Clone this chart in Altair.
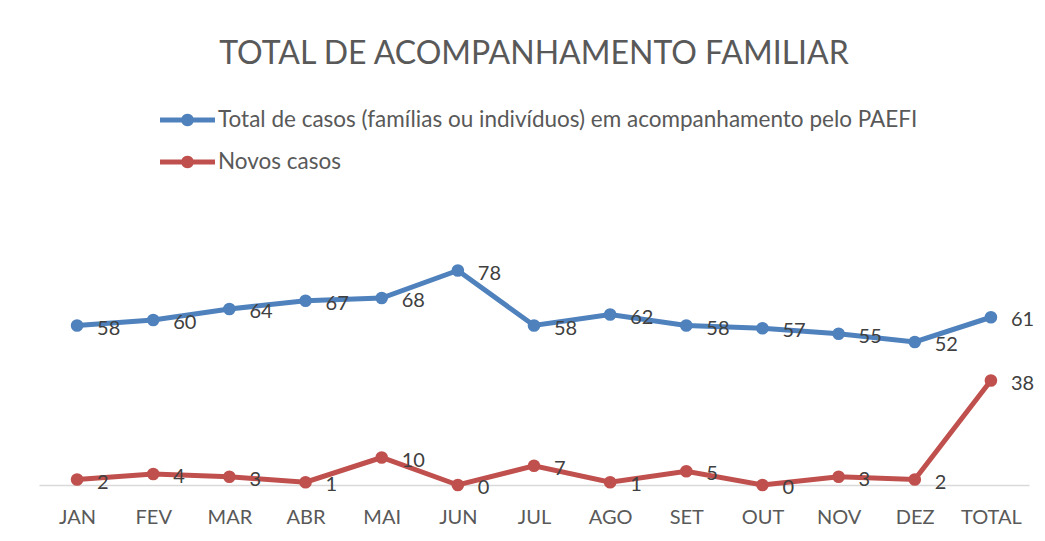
import altair as alt
import pandas as pd
import math

months = ["JAN", "FEV", "MAR", "ABR", "MAI", "JUN", "JUL", "AGO", "SET", "OUT", "NOV", "DEZ", "TOTAL"]
total_casos = [58, 60, 64, 67, 68, 78, 58, 62, 58, 57, 55, 52, 61]
novos_casos = [2, 4, 3, 1, 10, 0, 7, 1, 5, 0, 3, 2, 38]
series_names = ["Total de casos (famílias ou indivíduos) em acompanhamento pelo PAEFI", "Novos casos"]
series_colors = ["#4F81BD", "#C0504D"]

rows = []
for m, v in zip(months, total_casos):
    rows.append({"mes": m, "valor": v, "serie": series_names[0]})
for m, v in zip(months, novos_casos):
    rows.append({"mes": m, "valor": v, "serie": series_names[1]})
df = pd.DataFrame(rows)

# legend symbol: line segment with a dot in the middle (unit square path)
circ = []
for i in range(24):
    a = 2 * math.pi * i / 24
    circ.append(f"{0.23*math.cos(a):.3f},{0.23*math.sin(a):.3f}")
legend_path = "M-1,-0.09L1,-0.09L1,0.09L-1,0.09Z M" + "L".join(circ) + "Z"

FONT = "Lato"
TXT = "#595959"

x_enc = alt.X("mes:N", sort=months, title=None,
              axis=alt.Axis(labelAngle=0, labelFont=FONT, labelFontSize=20, labelColor=TXT,
                            ticks=False, grid=False, domainColor="#D9D9D9", domainWidth=1.5,
                            labelPadding=22))
y_enc = alt.Y("valor:Q", scale=alt.Scale(domain=[0, 90]), axis=None)
color_enc = alt.Color("serie:N", sort=series_names,
                      scale=alt.Scale(domain=series_names, range=series_colors),
                      legend=alt.Legend(title=None, orient="none", legendX=121, legendY=-145,
                                        direction="vertical", symbolType=legend_path,
                                        symbolSize=3025, symbolStrokeWidth=0,
                                        labelFont=FONT, labelFontSize=22.5, labelColor=TXT,
                                        labelLimit=0, rowPadding=3, padding=0, labelOffset=3))

base = alt.Chart(df)
lines = base.mark_line(strokeWidth=5).encode(x=x_enc, y=y_enc, color=color_enc)
points = base.mark_point(filled=True, size=160, opacity=1, shape="circle").encode(x=x_enc, y=y_enc, color=color_enc)
labels = base.mark_text(align="left", baseline="middle", dx=20, dy=3, font=FONT, fontSize=20,
                        color="#404040").encode(x=x_enc, y=y_enc, text="valor:Q")

chart = alt.layer(lines, points, labels).properties(
    width=990, height=247.5,
    title=alt.TitleParams("TOTAL DE ACOMPANHAMENTO FAMILIAR", font=FONT, fontSize=32,
                          fontWeight="normal", color=TXT, anchor="middle", offset=22),
    autosize=alt.AutoSizeParams(type="none"),
    padding={"left": 31, "top": 229.5, "right": 8, "bottom": 48},
).configure(background="white", view=alt.ViewConfig(stroke=None))

chart.save("out.html", embed_options={"renderer": "svg", "actions": False})
